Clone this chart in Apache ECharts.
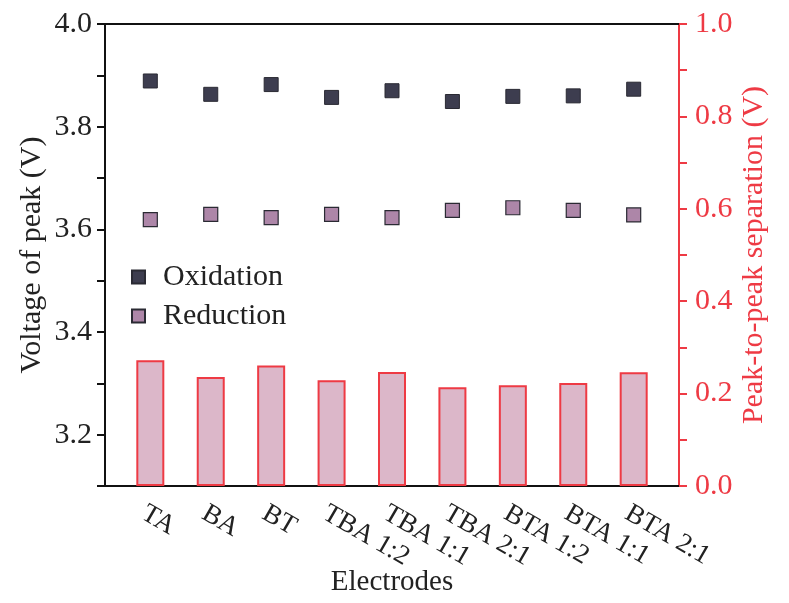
<!DOCTYPE html>
<html>
<head>
<meta charset="utf-8">
<script src="https://cdn.jsdelivr.net/npm/echarts@6/dist/echarts.min.js"></script>
<style>
  html, body { margin: 0; padding: 0; background: #fff; }
  #chart { width: 789px; height: 603px; }
</style>
</head>
<body>
<div id="chart"></div>
<script>
// electrodes along the x axis
var electrodes = ['TA', 'BA', 'BT', 'TBA 1:2', 'TBA 1:1', 'TBA 2:1', 'BTA 1:2', 'BTA 1:1', 'BTA 2:1'];

// peak voltages (V), left axis
var oxidation = [3.889, 3.863, 3.882, 3.857, 3.870, 3.849, 3.859, 3.860, 3.873];
var reduction = [3.619, 3.629, 3.623, 3.629, 3.623, 3.637, 3.642, 3.637, 3.628];

// peak-to-peak separation (V), right axis
var separation = [0.272, 0.236, 0.261, 0.229, 0.247, 0.214, 0.218, 0.223, 0.246];

var font = 'Liberation Serif';
var red = '#ee3a44';

function pairs(values) {
    return values.map(function(v, i) { return [i + 1, v]; });
}

function evenTenth(v) {
    return Math.round(v * 10) % 2 === 0 ? v.toFixed(1) : '';
}

var chart = echarts.init(document.getElementById('chart'));

chart.setOption({
    backgroundColor: '#fff',
    animation: false,
    grid: { left: 105, right: 110, top: 24, bottom: 117, outerBoundsMode: 'none', containLabel: false },
    legend: {
        data: ['Oxidation', 'Reduction'],
        orient: 'vertical',
        left: 126,
        top: 257,
        icon: 'rect',
        itemWidth: 13,
        itemHeight: 13,
        itemGap: 9,
        textStyle: { fontFamily: font, fontSize: 30, color: '#222', padding: [0, 0, 0, 13] }
    },
    xAxis: [{
        type: 'value',
        min: 0.25,
        max: 9.75,
        interval: 0.25,
        name: 'Electrodes',
        nameLocation: 'middle',
        nameGap: 82,
        nameMoveOverlap: false,
        nameTextStyle: { fontFamily: font, fontSize: 29, color: '#222' },
        splitLine: { show: false },
        axisLine: { lineStyle: { color: '#111', width: 2 } },
        axisTick: { show: false },
        axisLabel: {
            rotate: -30,
            margin: 14,
            verticalAlign: 'top',
            fontFamily: font,
            fontSize: 27,
            color: '#222',
            showMinLabel: false,
            showMaxLabel: false,
            formatter: function(v) {
                return Number.isInteger(v) ? electrodes[v - 1] : '';
            }
        }
    }, {
        type: 'value',
        position: 'top',
        min: 0.25,
        max: 9.75,
        splitLine: { show: false },
        axisLine: { lineStyle: { color: '#111', width: 2 } },
        axisTick: { show: false },
        axisLabel: { show: false }
    }],
    yAxis: [{
        type: 'value',
        min: 3.1,
        max: 4.0,
        interval: 0.1,
        name: 'Voltage of peak (V)',
        nameLocation: 'middle',
        nameGap: 58,
        nameMoveOverlap: false,
        nameTextStyle: { fontFamily: font, fontSize: 30, color: '#222' },
        splitLine: { show: false },
        axisLine: { show: true, lineStyle: { color: '#111', width: 2 } },
        axisTick: { show: true, length: 8, lineStyle: { color: '#111', width: 2 } },
        axisLabel: { fontFamily: font, fontSize: 30, color: '#222', margin: 13, formatter: evenTenth }
    }, {
        type: 'value',
        position: 'right',
        min: 0,
        max: 1.0,
        interval: 0.1,
        name: 'Peak-to-peak separation (V)',
        nameLocation: 'middle',
        nameGap: 60,
        nameMoveOverlap: false,
        nameTextStyle: { fontFamily: font, fontSize: 30, color: red },
        splitLine: { show: false },
        axisLine: { show: true, lineStyle: { color: red, width: 2 } },
        axisTick: { show: true, length: 8, lineStyle: { color: red, width: 2 } },
        axisLabel: { fontFamily: font, fontSize: 30, color: red, margin: 16, formatter: evenTenth }
    }],
    series: [{
        name: 'Separation',
        type: 'bar',
        xAxisIndex: 0,
        yAxisIndex: 1,
        barWidth: 28,
        data: pairs(separation),
        itemStyle: { color: '#dcb7c9', borderColor: red, borderWidth: 2 },
        z: 1
    }, {
        name: 'Oxidation',
        type: 'scatter',
        xAxisIndex: 0,
        yAxisIndex: 0,
        symbol: 'rect',
        symbolSize: 14,
        data: pairs(oxidation),
        itemStyle: { color: '#3d3d4f', borderColor: '#2a2a33', borderWidth: 1, opacity: 1 },
        z: 3
    }, {
        name: 'Reduction',
        type: 'scatter',
        xAxisIndex: 0,
        yAxisIndex: 0,
        symbol: 'rect',
        symbolSize: 14,
        data: pairs(reduction),
        itemStyle: { color: '#ad86a8', borderColor: '#2a2a33', borderWidth: 1.2, opacity: 1 },
        z: 3
    }]
});
</script>
</body>
</html>
